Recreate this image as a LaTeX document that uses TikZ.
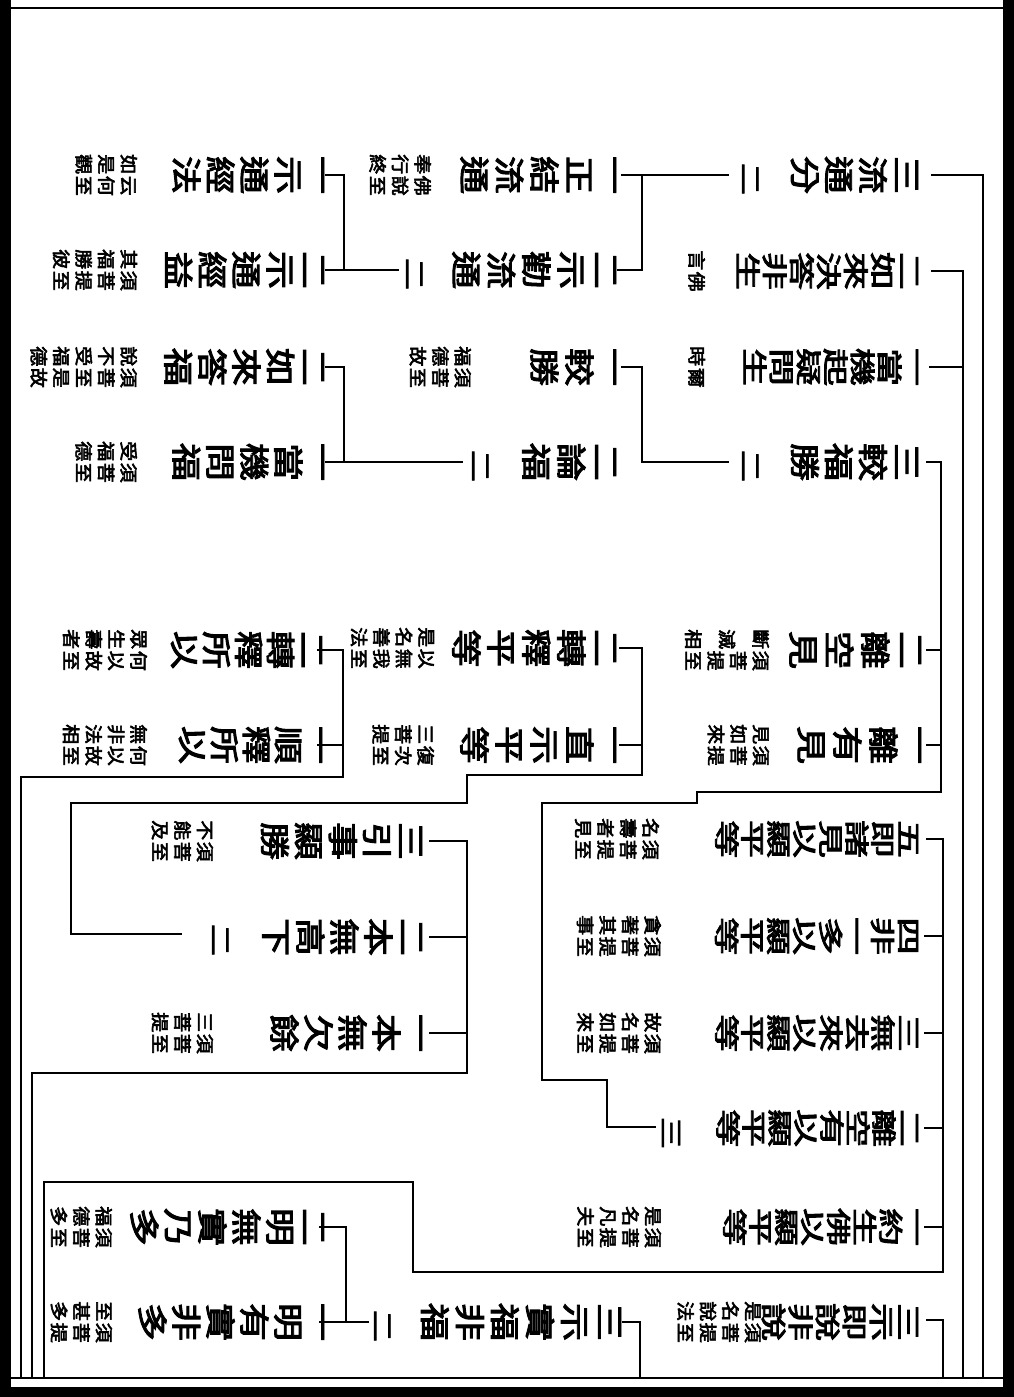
\documentclass[tikz,border=0pt]{standalone}
\usepackage{fontspec}
\usepackage{graphicx}
\newfontfamily\cjk{Noto Sans CJK TC}[FakeBold=3]
% split a string of characters into a stack of boxes
\def\chstack#1{\chstackA#1\relax}
\def\chstackA#1{\ifx#1\relax\else\hbox{#1}\expandafter\chstackA\fi}
% vertical stack: #1 font size, #2 vertical squeeze, #3 baselineskip, #4 chars
\newcommand\VT[4]{\scalebox{1}[#2]{\cjk\fontsize{#1}{#3}\selectfont\lineskiplimit=-100pt\relax\vbox{\chstack{#4}}}}
\newcommand\MainA[1]{\VT{38pt}{0.8}{42.5pt}{#1}}
\newcommand\MainB[1]{\VT{38pt}{0.8}{43.75pt}{#1}}
\newcommand\MainE[1]{\VT{38pt}{0.8}{45pt}{#1}}
\newcommand\MainF[1]{\VT{38pt}{0.78}{41pt}{#1}}
\newcommand\MainC[1]{\VT{38pt}{0.68}{39.7pt}{#1}}
\newcommand\MainD[1]{\VT{38pt}{0.66}{39.4pt}{#1}}
\newcommand\Mark[1]{\VT{32pt}{0.75}{40pt}{#1}}
% double-line note: #2 first part (lower row), #3 second part (upper row)
\newcommand\ANN[3][25pt]{\scalebox{1}[0.9]{\cjk\fontsize{20pt}{25pt}\selectfont\lineskiplimit=-100pt\relax\hbox{\vtop{\baselineskip=#1\relax\chstack{#3}}\hskip1.5pt\vtop{\chstack{#2}}}}}
\begin{document}
\begin{tikzpicture}[x=1pt,y=-1pt,
  txt/.style={rotate=-90,inner sep=0pt,outer sep=0pt,anchor=north},
  mk/.style={rotate=-90,inner sep=0pt,outer sep=0pt,anchor=center},
  conn/.style={line width=2.3pt,line join=miter,line cap=rect},
  frameline/.style={line width=2.5pt}]
\useasboundingbox (0,0) rectangle (1014,1397);
\fill[white] (0,0) rectangle (1014,1397);
% page edges
\fill[black] (1003,0) rectangle (1014,1397);
\fill[black] (0,1387) rectangle (1014,1397);
\fill[black] (0,0) rectangle (11,1397);
\draw[frameline] (11,8) -- (1003,8);
\draw[frameline] (11,1378) -- (1003,1378);

% ---------- right column ----------
\node[txt] (r1) at (918,175) {\MainA{三流通分}};
\node[txt] (r2) at (918,271) {\MainC{二如來決答非生}};
\node[txt] (r3) at (918,367) {\MainC{一當機起疑問生}};
\node[txt] (r4) at (918,462) {\MainA{三較福勝}};
\node[txt] (r5) at (921,650) {\MainE{二離空見}};
\node[txt] (r6) at (921,745) {\MainE{一離有見}};
\node[txt] (r7) at (918,839) {\MainD{五即諸見以顯平等}};
\node[txt] (r8) at (918,936) {\MainD{四非一多以顯平等}};
\node[txt] (r9) at (918,1033) {\MainD{三無去來以顯平等}};
\node[txt] (r10) at (918,1128) {\MainD{二離空有以顯平等}};
\node[txt] (r11) at (918,1227) {\MainD{一約生佛以顯平等}};
\node[txt] (r12) at (918,1322) {\MainC{三示即說非說}};

\node[txt] (a1) at (705,271) {\ANN{佛}{言}};
\node[txt] (a2) at (705,367) {\ANN{爾}{時}};
\node[txt] (a3) at (769,650) {\ANN[37.5pt]{須菩提至}{斷滅相}};
\node[txt] (a4) at (769,745) {\ANN{須菩提}{見如來}};
\node[txt] (a5) at (659,839) {\ANN{須菩提至}{名壽者見}};
\node[txt] (a6) at (661,936) {\ANN{須菩提至}{貪著其事}};
\node[txt] (a7) at (661,1033) {\ANN{須菩提至}{故名如來}};
\node[txt] (a8) at (661,1227) {\ANN{須菩提至}{是名凡夫}};
\node[txt] (a9) at (761,1322) {\ANN{須菩提至}{是名說法}};

% ---------- middle column ----------
\node[txt] (m1) at (616,175) {\MainB{一正結流通}};
\node[txt] (m2) at (616,270) {\MainB{二示勸流通}};
\node[txt] (m3) at (616,367) {\MainB{一較勝}};
\node[txt] (m4) at (616,462) {\MainB{二論福}};
\node[txt] (m5) at (616,648) {\MainB{二轉釋平等}};
\node[txt] (m6) at (616,745) {\MainB{一直示平等}};
\node[txt] (m7) at (621,1322) {\MainB{三示實福非福}};

\node[txt] (am1) at (431,175) {\ANN{佛說至}{奉行終}};
\node[txt] (am3) at (471,367) {\ANN{須菩至}{福德故}};
\node[txt] (am5) at (434,648) {\ANN{以無我至}{是名善法}};
\node[txt] (am6) at (434,745) {\ANN{復次至}{三菩提}};

% ---------- left column ----------
\node[txt] (l1) at (324,175) {\MainA{一示通經法}};
\node[txt] (l2) at (324,270) {\MainA{二示通經益}};
\node[txt] (l3) at (324,367) {\MainA{二如來答福}};
\node[txt] (l4) at (324,462) {\MainA{一當機問福}};
\node[txt] (l5) at (322,650) {\MainF{二轉釋所以}};
\node[txt] (l6) at (322,745) {\MainF{一順釋所以}};
\node[txt] (l7) at (324,1227) {\MainA{二明無實乃多}};
\node[txt] (l8) at (324,1322) {\MainA{一明有實非多}};

\node[txt] (al1) at (137,175) {\ANN{云何至}{如是觀}};
\node[txt] (al2) at (137,270) {\ANN{須菩提至}{其福勝彼}};
\node[txt] (al3) at (137,367) {\ANN{須菩至是故}{說不受福德}};
\node[txt] (al4) at (137,462) {\ANN{須菩至}{受福德}};
\node[txt] (al5) at (147,650) {\ANN{何以故至}{眾生壽者}};
\node[txt] (al6) at (147,745) {\ANN{何以故至}{無非法相}};
\node[txt] (al7) at (112,1227) {\ANN{須菩至}{福德多}};
\node[txt] (al8) at (112,1322) {\ANN{須菩提}{至甚多}};

% ---------- lower middle column ----------
\node[txt] (n1) at (422,841) {\MainA{三引事顯勝}};
\node[txt] (n2) at (422,937) {\MainA{二本無高下}};
\node[txt] (n3) at (422,1033) {\MainA{一本無欠餘}};
\node[txt] (an1) at (213,841) {\ANN{須菩至}{不能及}};
\node[txt] (an3) at (213,1033) {\ANN{須菩至}{三菩提}};

% ---------- trailing count markers ----------
\node[mk] (t1) at (750,179) {\Mark{二}};
\node[mk] (t2) at (750,466) {\Mark{二}};
\node[mk] (t3) at (414,274) {\Mark{二}};
\node[mk] (t4) at (480,466) {\Mark{二}};
\node[mk] (t5) at (220,940) {\Mark{二}};
\node[mk] (t6) at (382,1326) {\Mark{二}};
\node[mk] (t7) at (671,1133) {\Mark{三}};

% ---------- connectors ----------
\draw[conn] (932,175) -- (983,175) -- (983,1378);
\draw[conn] (932,271) -- (963,271) -- (963,1378);
\draw[conn] (930,367) -- (963,367);
\draw[conn] (927,462) -- (941,462) -- (941,792) -- (697,792) -- (697,803) -- (542,803) -- (542,1080) -- (607,1080) -- (607,1127) -- (655,1127);
\draw[conn] (927,650) -- (941,650);
\draw[conn] (927,745) -- (941,745);
\draw[conn] (927,839) -- (943,839) -- (943,1272) -- (413,1272) -- (413,1182) -- (44,1182) -- (44,1378);
\foreach \yy in {936,1033,1128,1227} {\draw[conn] (925,\yy) -- (943,\yy);}
\draw[conn] (927,1320) -- (943,1320) -- (943,1378);

\draw[conn] (728,175) -- (622,175);
\draw[conn] (642,175) -- (642,270) -- (618,270);
\draw[conn] (728,462) -- (642,462) -- (642,367) -- (622,367);

\draw[conn] (398,270) -- (326,270);
\draw[conn] (326,175) -- (344,175) -- (344,270);
\draw[conn] (462,462) -- (326,462);
\draw[conn] (326,367) -- (344,367) -- (344,462);

\draw[conn] (620,648) -- (642,648) -- (642,775) -- (467,775) -- (467,803) -- (71,803) -- (71,934) -- (181,934);
\draw[conn] (620,745) -- (642,745);
\draw[conn] (318,650) -- (343,650) -- (343,777) -- (21,777) -- (21,1378);
\draw[conn] (318,745) -- (343,745);
\draw[conn] (430,841) -- (467,841) -- (467,1073) -- (32,1073) -- (32,1378);
\draw[conn] (430,937) -- (467,937);
\draw[conn] (430,1033) -- (467,1033);

\draw[conn] (623,1322) -- (640,1322) -- (640,1378);
\draw[conn] (368,1322) -- (320,1322);
\draw[conn] (320,1227) -- (346,1227) -- (346,1322);
\end{tikzpicture}
\end{document}
